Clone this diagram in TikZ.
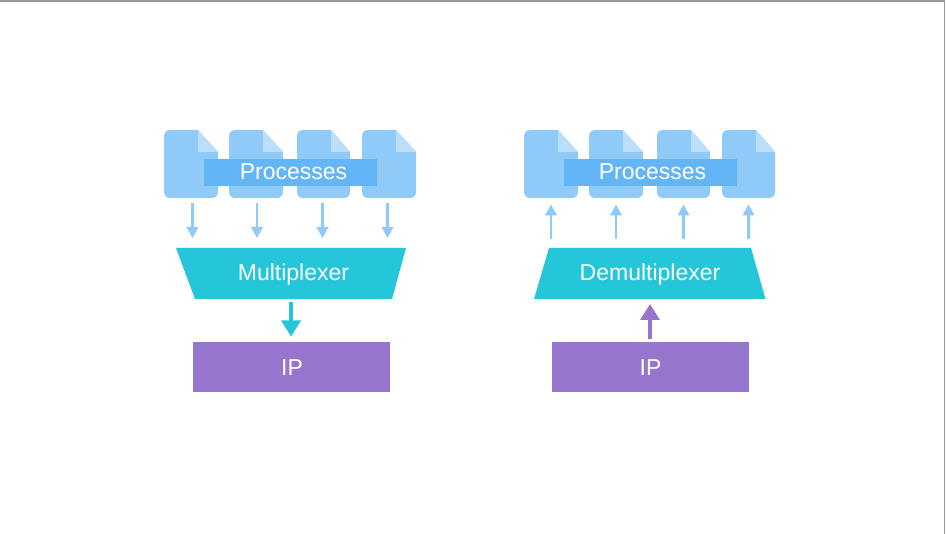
\documentclass[tikz,border=0pt]{standalone}
\usepackage{fontspec}
\setmainfont{Liberation Sans}
\usetikzlibrary{arrows.meta}
\definecolor{pagec}{HTML}{90CAF9}
\definecolor{foldc}{HTML}{BBDEFB}
\definecolor{bandc}{HTML}{64B5F6}
\definecolor{muxc}{HTML}{26C6DA}
\definecolor{ipc}{HTML}{9575CD}
\definecolor{framec}{HTML}{999999}
\tikzset{
  x=1pt,y=-1pt,
  band/.style={fill=bandc,draw=none,minimum width=173pt,minimum height=27pt,inner sep=0pt},
  lbl/.style={text=white,font=\fontsize{23}{25}\selectfont,inner sep=0pt,anchor=base},
  ipbox/.style={fill=ipc,draw=none,minimum width=197pt,minimum height=50pt,inner sep=0pt},
  thin arrow/.style={draw=pagec,line width=2.3pt,-{Triangle[width=11.5pt,length=11pt]}},
  mux arrow/.style={draw=muxc,line width=3.5pt,-{Triangle[width=19pt,length=16pt]}},
  ip arrow/.style={draw=ipc,line width=3.5pt,-{Triangle[width=19pt,length=16pt]}},
}
\newcommand{\docpage}[2]{%
  \fill[pagec] (#1+#2,152) [rounded corners=6pt] -- (#1+#2,198) -- (#1,198) -- (#1,130) [sharp corners] -- (#1+34,130) -- cycle;
  \fill[foldc] (#1+34,130) -- (#1+#2,152) -- (#1+34,152) -- cycle;
}
\begin{document}
\begin{tikzpicture}
\useasboundingbox (0,0) rectangle (947,534);
\fill[white] (0,0) rectangle (947,534);
\draw[framec,line width=1.2pt] (0,1) -- (944.5,1) -- (944.5,534);

% left diagram
\docpage{164}{54}\docpage{229}{54}\docpage{297}{53}\docpage{362}{54}
\node[band] (bandL) at (290.5,172.5) {};
\node[lbl] (procL) at (293.5,180) {Processes};
\foreach \n/\x in {1/192.5,2/257,3/322.5,4/387.5}{
  \coordinate (la\n) at (\x,203);
  \coordinate (lb\n) at (\x,238);
  \draw[thin arrow] (la\n) -- (lb\n);
}
\fill[muxc] (176,248) -- (406,248) -- (392,299) -- (195,299) -- cycle;
\node[lbl] (mux) at (293.5,281) {Multiplexer};
\node[ipbox] (ipL) at (291.5,367) {};
\node[lbl] (ipLt) at (292,375) {IP};
\coordinate (muxOut) at (291,302);
\coordinate (ipIn) at (291,336.5);
\draw[mux arrow] (muxOut) -- (ipIn);

% right diagram
\docpage{524}{54}\docpage{589}{54}\docpage{657}{53}\docpage{722}{53}
\node[band] (bandR) at (650,172.5) {};
\node[lbl] (procR) at (652.5,180) {Processes};
\foreach \n/\x in {1/551,2/616,3/683.5,4/748.5}{
  \coordinate (ra\n) at (\x,239);
  \coordinate (rb\n) at (\x,204.5);
  \draw[thin arrow] (ra\n) -- (rb\n);
}
\fill[muxc] (549,248) -- (751,248) -- (765.5,299) -- (534,299) -- cycle;
\node[lbl] (demux) at (650,281) {Demultiplexer};
\node[ipbox] (ipR) at (650,367) {};
\node[lbl] (ipRt) at (650.5,375) {IP};
\coordinate (ipOut) at (650,338.5);
\coordinate (demuxIn) at (650,304);
\draw[ip arrow] (ipOut) -- (demuxIn);
\end{tikzpicture}
\end{document}
